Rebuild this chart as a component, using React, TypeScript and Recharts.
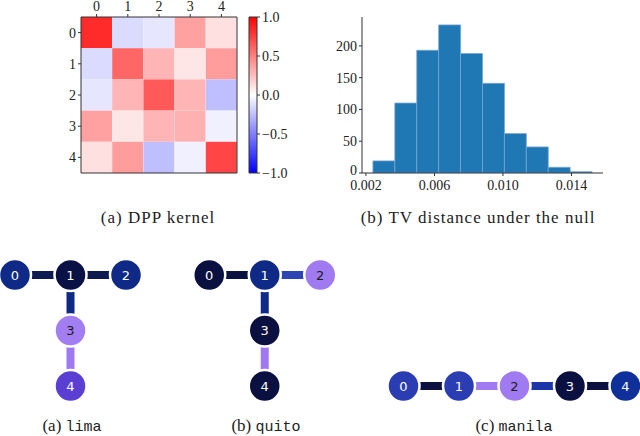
import React from 'react';
import { ComposedChart, BarChart, Bar, Cell, XAxis, YAxis, ScatterChart, Scatter } from 'recharts';

// ---------- DPP kernel (heatmap) ----------
const kernelLabels = ['0', '1', '2', '3', '4'];
const kernelRow0 = [0.83, -0.14, -0.1, 0.37, 0.12];
const kernelRow1 = [-0.14, 0.6, 0.29, 0.1, 0.39];
const kernelRow2 = [-0.1, 0.29, 0.65, 0.29, -0.25];
const kernelRow3 = [0.37, 0.1, 0.29, 0.31, -0.06];
const kernelRow4 = [0.12, 0.39, -0.25, -0.06, 0.73];
const kernelRows = [kernelRow0, kernelRow1, kernelRow2, kernelRow3, kernelRow4];
const colorbarTicks = [-1, -0.5, 0, 0.5, 1];

// ---------- TV distance histogram ----------
const binLow = 0.002408;
const binWidth = 0.001279;
const binCounts = [19, 110, 193, 233, 188, 141, 62, 41, 9, 2];
const histXTicks = [0.002, 0.006, 0.01, 0.014];
const histYTicks = [0, 50, 100, 150, 200];

// ---------- device graphs ----------
const limaNodes = [
  { id: 0, gx: 0, gy: 0, color: '#0e2a86', dark: true },
  { id: 1, gx: 1, gy: 0, color: '#0a1144', dark: true },
  { id: 2, gx: 2, gy: 0, color: '#0e2a86', dark: true },
  { id: 3, gx: 1, gy: -1, color: '#a27ef2', dark: false },
  { id: 4, gx: 1, gy: -2, color: '#5b3fd2', dark: true },
];
const limaEdges = [
  { a: 0, b: 1, color: '#0c1a50' },
  { a: 1, b: 2, color: '#0c1a50' },
  { a: 1, b: 3, color: '#0e2a86' },
  { a: 3, b: 4, color: '#9f78f2' },
];
const quitoNodes = [
  { id: 0, gx: 0, gy: 0, color: '#0a1040', dark: true },
  { id: 1, gx: 1, gy: 0, color: '#0e2a86', dark: true },
  { id: 2, gx: 2, gy: 0, color: '#a07af0', dark: false },
  { id: 3, gx: 1, gy: -1, color: '#0a1040', dark: true },
  { id: 4, gx: 1, gy: -2, color: '#0a1040', dark: true },
];
const quitoEdges = [
  { a: 0, b: 1, color: '#0a1040' },
  { a: 1, b: 2, color: '#2d44b5' },
  { a: 1, b: 3, color: '#0e2a86' },
  { a: 3, b: 4, color: '#9f78f2' },
];
const manilaNodes = [
  { id: 0, gx: 0, gy: 0, color: '#2b3db3', dark: true },
  { id: 1, gx: 1, gy: 0, color: '#2b3db3', dark: true },
  { id: 2, gx: 2, gy: 0, color: '#a07af0', dark: false },
  { id: 3, gx: 3, gy: 0, color: '#0a1040', dark: true },
  { id: 4, gx: 4, gy: 0, color: '#0f309a', dark: true },
];
const manilaEdges = [
  { a: 0, b: 1, color: '#0a1040' },
  { a: 1, b: 2, color: '#a07af0' },
  { a: 2, b: 3, color: '#1a36a8' },
  { a: 3, b: 4, color: '#0a1040' },
];
const graphs = [
  { name: 'lima', tag: '(a)', ox: 0, oy: 0, nodes: limaNodes, edges: limaEdges },
  { name: 'quito', tag: '(b)', ox: 3.5, oy: 0, nodes: quitoNodes, edges: quitoEdges },
  { name: 'manila', tag: '(c)', ox: 7.0, oy: -2, nodes: manilaNodes, edges: manilaEdges },
];

// ---------- helpers ----------
const SERIF = '"Liberation Serif", "Times New Roman", serif';
const MONO = '"Liberation Mono", "DejaVu Sans Mono", monospace';
const SPINE = '#333';

function bwr(v: number): string {
  const c = (x: number) => Math.round(Math.max(0, Math.min(1, x)) * 255);
  if (v >= 0) return `rgb(255,${c(1 - v)},${c(1 - v)})`;
  return `rgb(${c(1 + v)},${c(1 + v)},255)`;
}

const heatData = kernelLabels.map((col) => {
  const d: any = { col };
  kernelRows.forEach((_, i) => (d[`r${i}`] = 1));
  return d;
});

const histData = binCounts.map((count, i) => ({ x: binLow + binWidth * (i + 0.5), count }));

const fmtMinus = (v: number) => (v < 0 ? '\u2212' + Math.abs(v).toFixed(1) : v.toFixed(1));

const tickStyle = { fontFamily: SERIF, fontSize: 14, fill: '#222' };

// y tick for histogram: lift the "0" label slightly so it clears the x labels
const HistYTick = (props: any) => {
  const { x, y, payload } = props;
  const lift = payload.value === 0 ? -3 : 0;
  return (
    <text x={x} y={y + lift} dy="0.355em" textAnchor="end" fontFamily={SERIF} fontSize={14} fill="#222">
      {payload.value}
    </text>
  );
};

const NodeShape = (props: any) => {
  const { cx, cy, payload } = props;
  if (cx == null || cy == null) return <g />;
  return (
    <g>
      <circle cx={cx} cy={cy} r={16} fill={payload.color} stroke="#fff" strokeWidth={2.5} />
      <text
        x={cx}
        y={cy}
        dy="0.36em"
        textAnchor="middle"
        fill={payload.dark ? '#fff' : '#1a1a1a'}
        fontSize={13}
        fontFamily='"DejaVu Sans", sans-serif'
      >
        {payload.id}
      </text>
    </g>
  );
};
const Empty = () => <g />;

const captionStyle: any = {
  position: 'absolute',
  textAlign: 'center',
  fontFamily: SERIF,
  fontSize: 17,
  letterSpacing: 1,
  color: '#222',
  whiteSpace: 'nowrap',
};

export default function App() {
  const allNodes: any[] = [];
  const allEdges: any[] = [];
  graphs.forEach((g) => {
    g.nodes.forEach((n) => allNodes.push({ ...n, x: g.ox + n.gx, y: g.oy + n.gy }));
    g.edges.forEach((e, k) => {
      const na = g.nodes[e.a];
      const nb = g.nodes[e.b];
      allEdges.push({
        key: `${g.name}-${k}`,
        color: e.color,
        data: [
          { x: g.ox + na.gx, y: g.oy + na.gy },
          { x: g.ox + nb.gx, y: g.oy + nb.gy },
        ],
      });
    });
  });

  return (
    <div style={{ position: 'absolute', left: 0, top: 0, width: 640, height: 436, background: '#fff', overflow: 'hidden' }}>
      {/* Heatmap */}
      <div style={{ position: 'absolute', left: 0, top: -10 }}>
        <ComposedChart width={240} height={200} data={heatData} margin={{ top: 0, right: 0, bottom: 0, left: 0 }} barCategoryGap={0} barGap={0}>
          <XAxis xAxisId="top" orientation="top" dataKey="col" type="category" height={27} tickSize={3} tickMargin={3} tick={tickStyle} stroke={SPINE} tickLine={{ stroke: SPINE }} axisLine={{ stroke: SPINE }} interval={0} />
          <XAxis xAxisId="bottom" orientation="bottom" dataKey="col" type="category" height={17} tickSize={3} tick={false} stroke={SPINE} axisLine={{ stroke: SPINE }} tickLine={{ stroke: SPINE }} interval={0} />
          <YAxis yAxisId="left" type="number" domain={[0, 5]} reversed ticks={[0.5, 1.5, 2.5, 3.5, 4.5]} tickFormatter={(v: number) => String(v - 0.5)} width={81} tickSize={3} tickMargin={2} tick={tickStyle} stroke={SPINE} axisLine={{ stroke: SPINE }} tickLine={{ stroke: SPINE }} interval={0} />
          <YAxis yAxisId="right" orientation="right" type="number" domain={[0, 5]} width={3} tick={false} tickLine={false} axisLine={{ stroke: SPINE }} />
          {kernelRows.map((row, i) => (
            <Bar key={i} xAxisId="top" yAxisId="left" dataKey={`r${i}`} stackId="k" isAnimationActive={false}>
              {row.map((v, j) => (
                <Cell key={j} fill={bwr(v)} />
              ))}
            </Bar>
          ))}
        </ComposedChart>
      </div>

      {/* Colorbar */}
      <div style={{ position: 'absolute', left: 240, top: 0 }}>
        <BarChart width={60} height={190} data={[{ n: 'cb', range: [-1, 1] }]} margin={{ top: 17, right: 0, bottom: 17, left: 9 }} barCategoryGap={0}>
          <defs>
            <linearGradient id="bwrGrad" x1="0" y1="0" x2="0" y2="1">
              <stop offset="0%" stopColor="#ff0000" />
              <stop offset="50%" stopColor="#ffffff" />
              <stop offset="100%" stopColor="#0000ff" />
            </linearGradient>
          </defs>
          <XAxis dataKey="n" hide />
          <YAxis orientation="right" type="number" domain={[-1, 1]} ticks={colorbarTicks} tickFormatter={fmtMinus} width={43} tickSize={3} tickMargin={2} tick={tickStyle} axisLine={false} tickLine={{ stroke: SPINE }} interval={0} />
          <Bar dataKey="range" fill="url(#bwrGrad)" stroke={SPINE} strokeWidth={1} isAnimationActive={false} />
        </BarChart>
      </div>

      {/* Histogram */}
      <div style={{ position: 'absolute', left: 300, top: 0 }}>
        <ComposedChart width={320} height={200} data={histData} margin={{ top: 17, right: 17, bottom: 0, left: 0 }} barCategoryGap={0} barGap={0}>
          <XAxis xAxisId="b" dataKey="x" type="number" domain={[0.00177, 0.01584]} ticks={histXTicks} tickFormatter={(v: number) => v.toFixed(3)} height={27} tickSize={3} tickMargin={4} tick={tickStyle} axisLine={{ stroke: SPINE }} tickLine={{ stroke: SPINE }} allowDataOverflow interval={0} />
          <XAxis xAxisId="t" orientation="top" dataKey="x" type="number" domain={[0.00177, 0.01584]} height={0} tick={false} tickLine={false} axisLine={{ stroke: SPINE }} allowDataOverflow />
          <YAxis yAxisId="l" type="number" domain={[0, 245.4]} ticks={histYTicks} width={62} tickSize={3} tickMargin={2} tick={<HistYTick />} axisLine={{ stroke: SPINE }} tickLine={{ stroke: SPINE }} allowDataOverflow interval={0} />
          <YAxis yAxisId="r" orientation="right" type="number" domain={[0, 245.4]} width={0} tick={false} tickLine={false} axisLine={{ stroke: SPINE }} allowDataOverflow />
          <Bar xAxisId="b" yAxisId="l" dataKey="count" fill="#1f77b4" stroke="#7aa6d2" strokeWidth={0.8} isAnimationActive={false} />
        </ComposedChart>
      </div>

      {/* Captions row 1 */}
      <div style={{ ...captionStyle, left: 58, top: 208, width: 200 }}>(a) DPP kernel</div>
      <div style={{ ...captionStyle, left: 328, top: 208, width: 300 }}>(b) TV distance under the null</div>

      {/* Device graphs */}
      <div style={{ position: 'absolute', left: 0, top: 240 }}>
        <ScatterChart width={640} height={196} margin={{ top: 0, right: 0, bottom: 0, left: 0 }}>
          <XAxis dataKey="x" type="number" domain={[-15 / 55.5, 625 / 55.5]} hide allowDataOverflow />
          <YAxis dataKey="y" type="number" domain={[-161 / 55.5, 35 / 55.5]} hide allowDataOverflow />
          {allEdges.map((e) => (
            <Scatter key={e.key} data={e.data} line={{ stroke: e.color, strokeWidth: 8 }} shape={Empty} isAnimationActive={false} />
          ))}
          <Scatter data={allNodes} shape={NodeShape} isAnimationActive={false} />
        </ScatterChart>
      </div>

      {/* Captions row 2 */}
      {graphs.map((g, i) => (
        <div key={g.name} style={{ ...captionStyle, letterSpacing: 0, left: [72, 266, 514][i] - 80, top: 416, width: 160 }}>
          {g.tag} <span style={{ fontFamily: MONO, fontSize: 15 }}>{g.name}</span>
        </div>
      ))}
    </div>
  );
}
